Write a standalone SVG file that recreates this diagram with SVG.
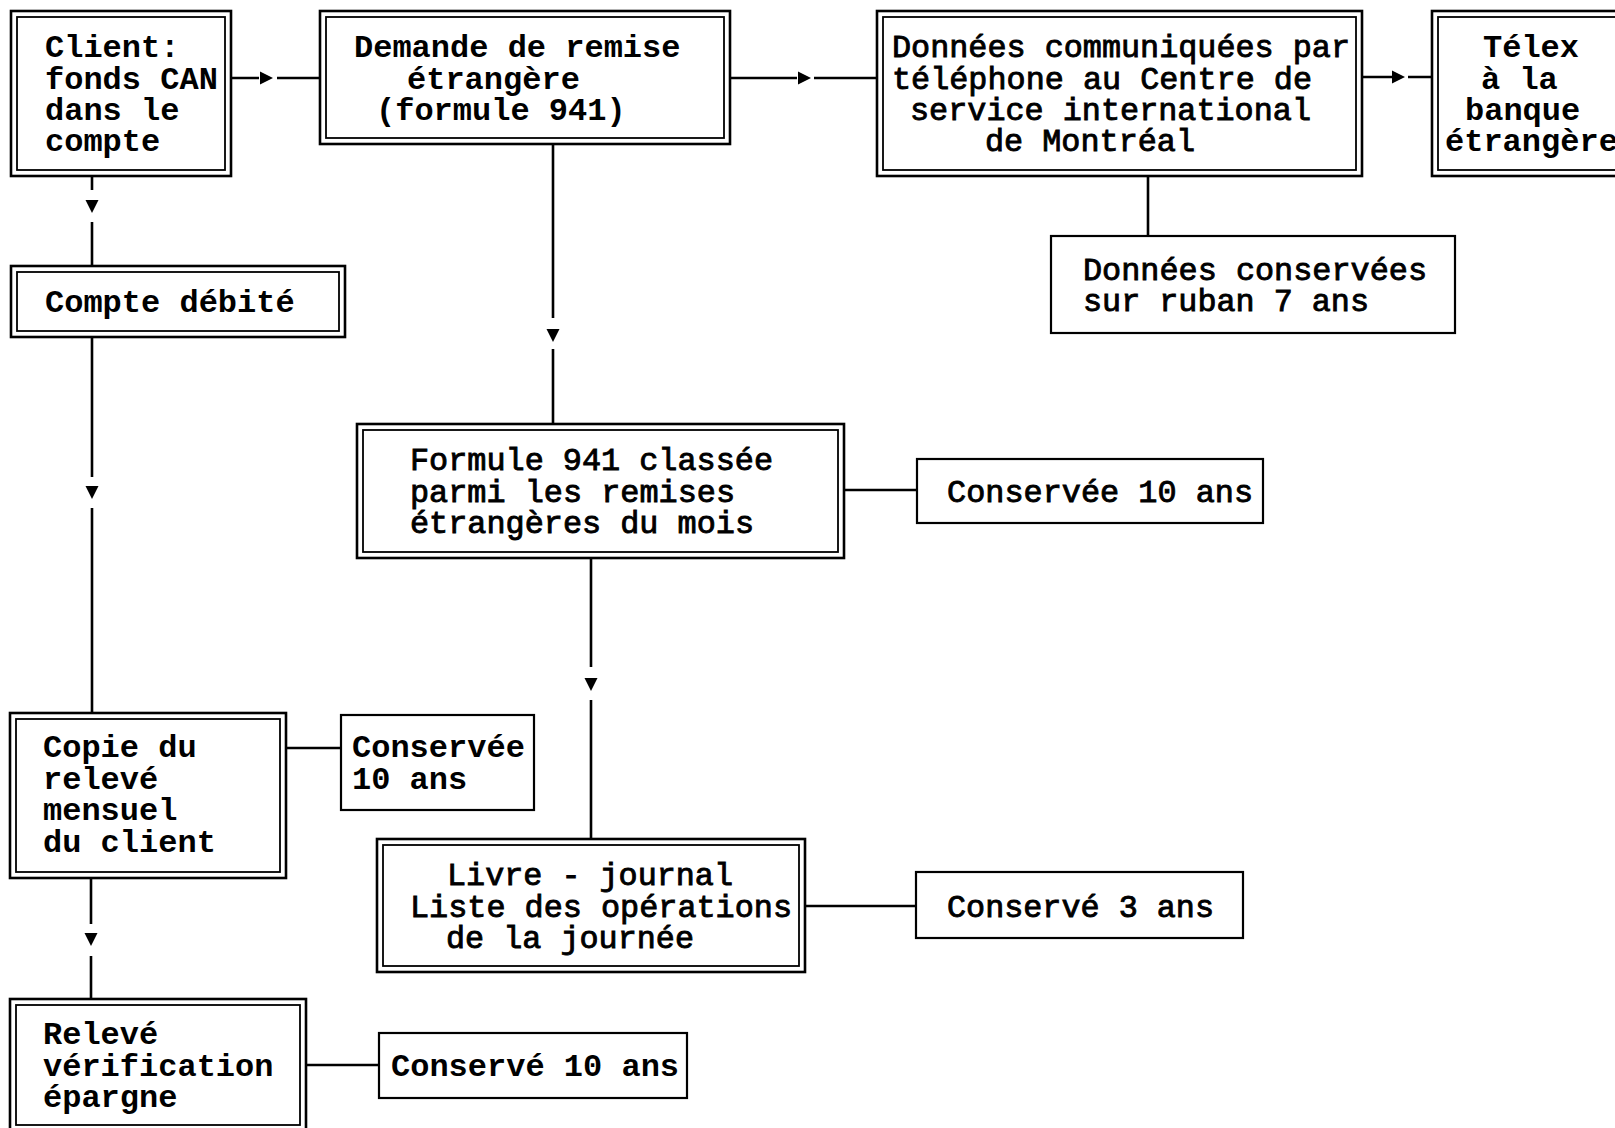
<svg xmlns="http://www.w3.org/2000/svg" width="1615" height="1128" viewBox="0 0 1615 1128">
  <style>
    .bg { fill: #ffffff; }
    .outer { fill: none; stroke: #000; stroke-width: 2.6; }
    .inner { fill: none; stroke: #000; stroke-width: 1.8; }
    .single { fill: #fff; stroke: #000; stroke-width: 2.2; }
    .wire { fill: none; stroke: #000; stroke-width: 2.6; }
    .head { fill: #000; }
    .tb { font-family: "Liberation Mono", "Courier New", monospace; font-weight: bold; font-size: 32px; fill: #000; }
    .tt { font-family: "Liberation Mono", "Courier New", monospace; font-weight: normal; font-size: 32px; fill: #000; stroke: #000; stroke-width: 0.9; }
  </style>
  <defs>
    <path id="head-right" class="head" d="M-13,-6.5 L0,0 L-13,6.5 Z"/>
    <path id="head-down" class="head" d="M-6.5,-13 L0,0 L6.5,-13 Z"/>
  </defs>

  <rect class="bg" x="0" y="0" width="1615" height="1128"/>

  <!-- connectors -->
  <g id="connectors">
    <!-- Client -> Demande -->
    <path class="wire" d="M231,78 H259 M277,78 H320"/>
    <use href="#head-right" x="273" y="78"/>
    <!-- Demande -> Données -->
    <path class="wire" d="M730,78 H797 M814,78 H877"/>
    <use href="#head-right" x="811" y="78"/>
    <!-- Données -> Télex -->
    <path class="wire" d="M1362,77 H1392 M1408,77 H1432"/>
    <use href="#head-right" x="1405" y="77"/>
    <!-- Données -> Données conservées -->
    <path class="wire" d="M1148,176 V236"/>
    <!-- Client -> Compte débité -->
    <path class="wire" d="M92,176 V190 M92,222 V266"/>
    <use href="#head-down" x="92" y="213"/>
    <!-- Compte débité -> Copie du relevé -->
    <path class="wire" d="M92,337 V477 M92,508 V713"/>
    <use href="#head-down" x="92" y="499"/>
    <!-- Demande -> Formule 941 -->
    <path class="wire" d="M553,144 V318 M553,349 V424"/>
    <use href="#head-down" x="553" y="342"/>
    <!-- Formule 941 -> Livre-journal -->
    <path class="wire" d="M591,558 V667 M591,700 V839"/>
    <use href="#head-down" x="591" y="691"/>
    <!-- Copie du relevé -> Relevé vérification -->
    <path class="wire" d="M91,878 V924 M91,956 V999"/>
    <use href="#head-down" x="91" y="946"/>
    <!-- retention links -->
    <path class="wire" d="M844,490 H917"/>
    <path class="wire" d="M286,748 H341"/>
    <path class="wire" d="M805,906 H916"/>
    <path class="wire" d="M306,1065 H379"/>
  </g>

  <!-- Client: fonds CAN dans le compte -->
  <g id="client">
    <rect class="outer" x="11" y="11" width="220" height="165"/>
    <rect class="inner" x="17" y="17" width="208" height="153"/>
    <text class="tb" x="45" y="57">Client:</text>
    <text class="tb" x="45" y="89">fonds CAN</text>
    <text class="tb" x="45" y="120">dans le</text>
    <text class="tb" x="45" y="151">compte</text>
  </g>

  <!-- Demande de remise étrangère -->
  <g id="demande">
    <rect class="outer" x="320" y="11" width="410" height="133"/>
    <rect class="inner" x="326" y="17" width="398" height="121"/>
    <text class="tb" x="354" y="57">Demande de remise</text>
    <text class="tb" x="407" y="89">étrangère</text>
    <text class="tb" x="376" y="120">(formule 941)</text>
  </g>

  <!-- Données communiquées par téléphone -->
  <g id="donnees">
    <rect class="outer" x="877" y="11" width="485" height="165"/>
    <rect class="inner" x="883" y="17" width="473" height="153"/>
    <text class="tt" x="892" y="57" textLength="458" lengthAdjust="spacingAndGlyphs">Données communiquées par</text>
    <text class="tt" x="892" y="89" textLength="420" lengthAdjust="spacingAndGlyphs">téléphone au Centre de</text>
    <text class="tt" x="910" y="120" textLength="401" lengthAdjust="spacingAndGlyphs">service international</text>
    <text class="tt" x="985" y="151" textLength="210" lengthAdjust="spacingAndGlyphs">de Montréal</text>
  </g>

  <!-- Télex à la banque étrangère -->
  <g id="telex">
    <rect class="outer" x="1432" y="11" width="200" height="165"/>
    <rect class="inner" x="1438" y="17" width="188" height="153"/>
    <text class="tb" x="1483" y="57">Télex</text>
    <text class="tb" x="1481" y="89">à la</text>
    <text class="tb" x="1465" y="120">banque</text>
    <text class="tb" x="1445" y="151">étrangère</text>
  </g>

  <!-- Données conservées sur ruban -->
  <g id="ruban">
    <rect class="single" x="1051" y="236" width="404" height="97"/>
    <text class="tt" x="1083" y="280" textLength="344" lengthAdjust="spacingAndGlyphs">Données conservées</text>
    <text class="tt" x="1083" y="311" textLength="286" lengthAdjust="spacingAndGlyphs">sur ruban 7 ans</text>
  </g>

  <!-- Compte débité -->
  <g id="compte">
    <rect class="outer" x="11" y="266" width="334" height="71"/>
    <rect class="inner" x="17" y="272" width="322" height="59"/>
    <text class="tb" x="45" y="312">Compte débité</text>
  </g>

  <!-- Formule 941 classée -->
  <g id="formule">
    <rect class="outer" x="357" y="424" width="487" height="134"/>
    <rect class="inner" x="363" y="430" width="475" height="122"/>
    <text class="tt" x="410" y="470" textLength="363" lengthAdjust="spacingAndGlyphs">Formule 941 classée</text>
    <text class="tt" x="410" y="502" textLength="325" lengthAdjust="spacingAndGlyphs">parmi les remises</text>
    <text class="tt" x="410" y="533" textLength="344" lengthAdjust="spacingAndGlyphs">étrangères du mois</text>
  </g>

  <!-- Conservée 10 ans (formule) -->
  <g id="garde-formule">
    <rect class="single" x="917" y="459" width="346" height="64"/>
    <text class="tt" x="947" y="502" textLength="306" lengthAdjust="spacingAndGlyphs">Conservée 10 ans</text>
  </g>

  <!-- Copie du relevé mensuel du client -->
  <g id="copie">
    <rect class="outer" x="10" y="713" width="276" height="165"/>
    <rect class="inner" x="16" y="719" width="264" height="153"/>
    <text class="tb" x="43" y="757">Copie du</text>
    <text class="tb" x="43" y="789">relevé</text>
    <text class="tb" x="43" y="820">mensuel</text>
    <text class="tb" x="43" y="852">du client</text>
  </g>

  <!-- Conservée 10 ans (copie) -->
  <g id="garde-copie">
    <rect class="single" x="341" y="715" width="193" height="95"/>
    <text class="tb" x="352" y="757">Conservée</text>
    <text class="tb" x="352" y="789">10 ans</text>
  </g>

  <!-- Livre-journal -->
  <g id="livre">
    <rect class="outer" x="377" y="839" width="428" height="133"/>
    <rect class="inner" x="383" y="845" width="416" height="121"/>
    <text class="tt" x="447" y="885" textLength="286" lengthAdjust="spacingAndGlyphs">Livre - journal</text>
    <text class="tt" x="410" y="917" textLength="382" lengthAdjust="spacingAndGlyphs">Liste des opérations</text>
    <text class="tt" x="446" y="948" textLength="248" lengthAdjust="spacingAndGlyphs">de la journée</text>
  </g>

  <!-- Conservé 3 ans -->
  <g id="garde-livre">
    <rect class="single" x="916" y="872" width="327" height="66"/>
    <text class="tt" x="947" y="917" textLength="267" lengthAdjust="spacingAndGlyphs">Conservé 3 ans</text>
  </g>

  <!-- Relevé vérification épargne -->
  <g id="releve">
    <rect class="outer" x="10" y="999" width="296" height="136"/>
    <rect class="inner" x="16" y="1005" width="284" height="120"/>
    <text class="tb" x="43" y="1044">Relevé</text>
    <text class="tb" x="43" y="1076">vérification</text>
    <text class="tb" x="43" y="1107">épargne</text>
  </g>

  <!-- Conservé 10 ans (relevé) -->
  <g id="garde-releve">
    <rect class="single" x="379" y="1033" width="308" height="65"/>
    <text class="tb" x="391" y="1076">Conservé 10 ans</text>
  </g>
</svg>
